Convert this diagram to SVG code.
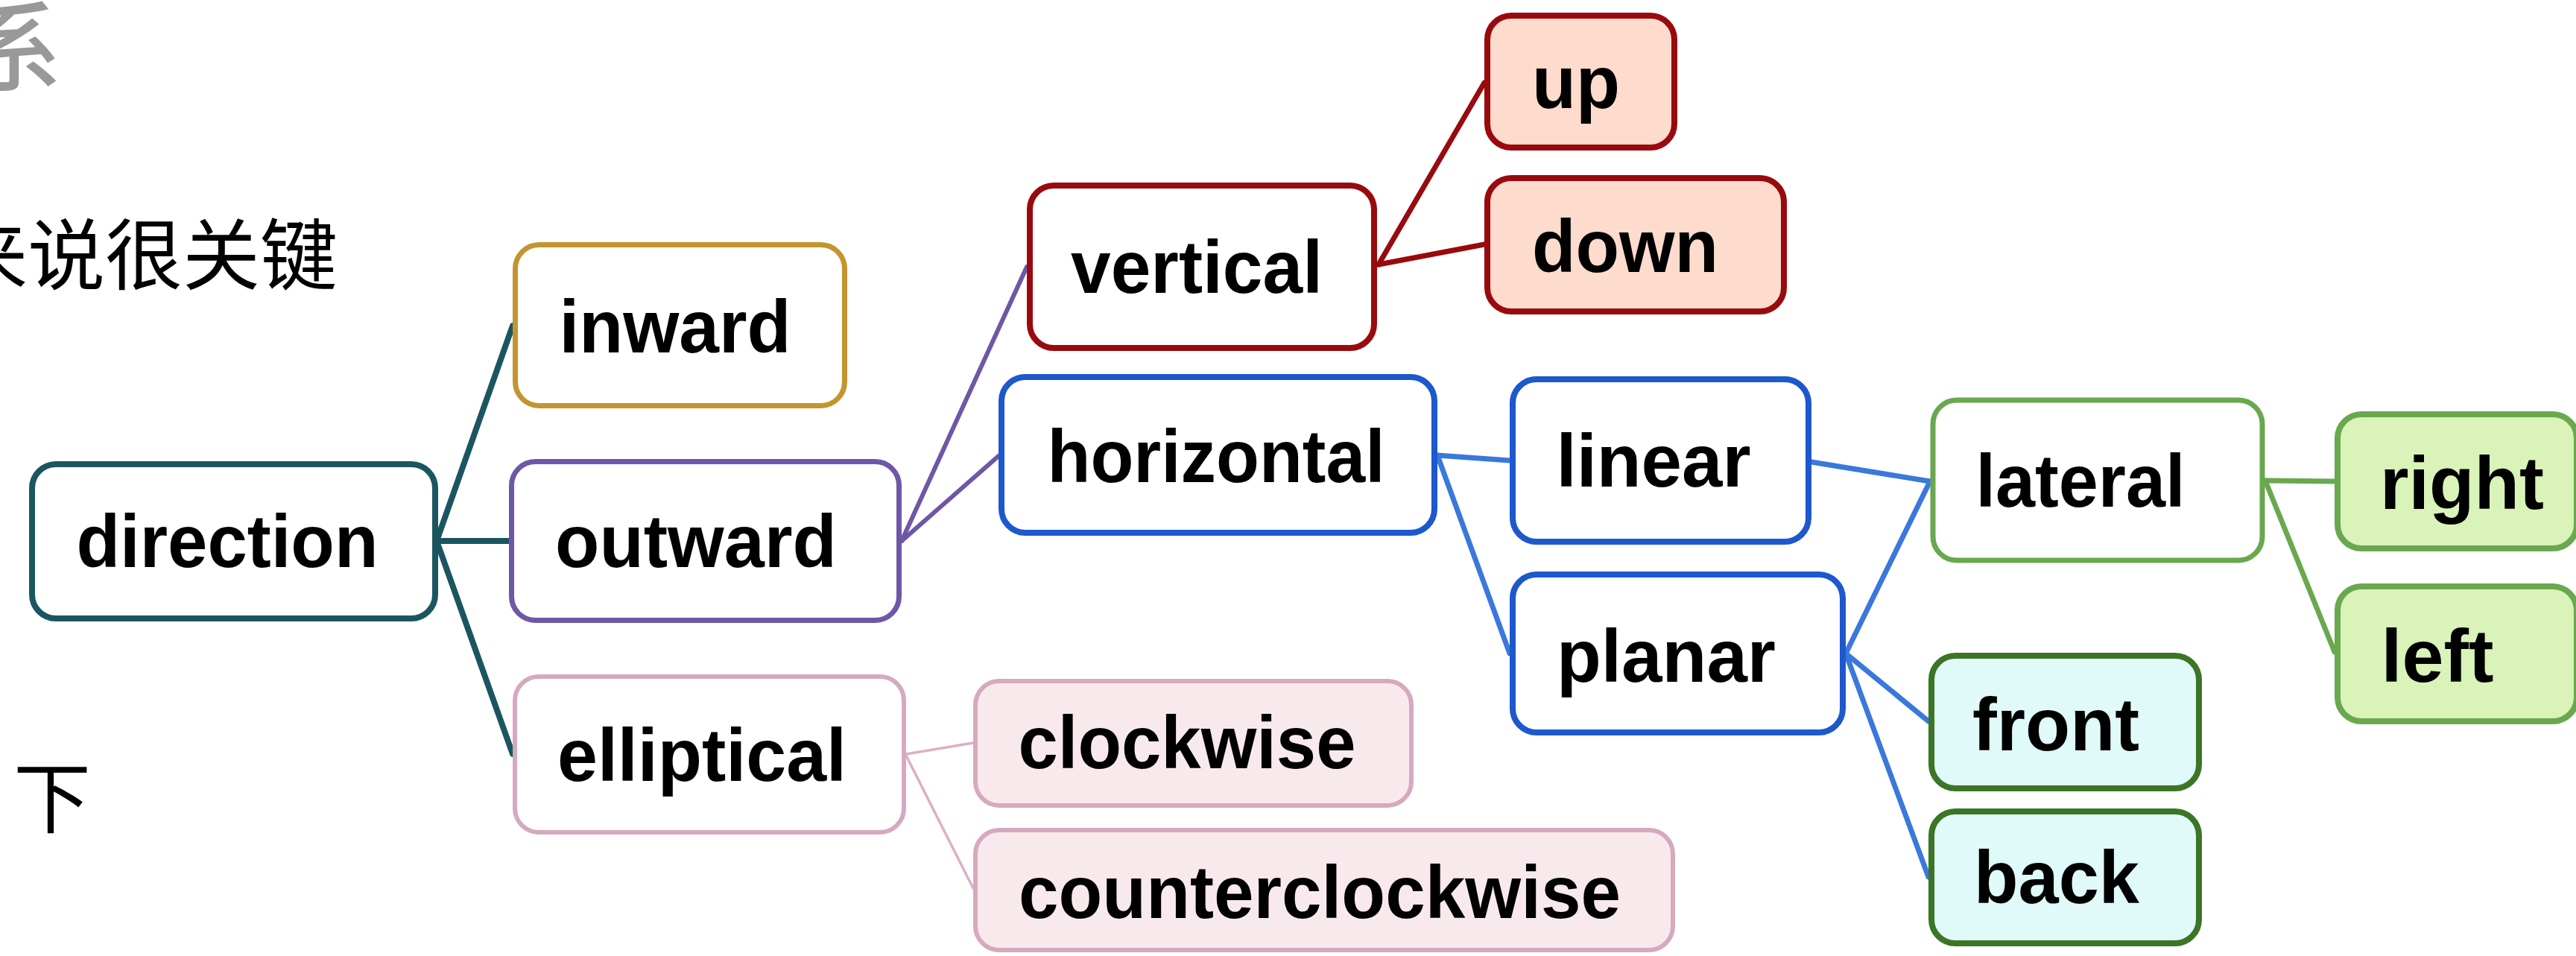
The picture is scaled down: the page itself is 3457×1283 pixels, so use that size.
<svg xmlns="http://www.w3.org/2000/svg" width="3457" height="1283" viewBox="0 0 3457 1283">
  <style>
    .bg { fill: #ffffff; }
    .cjk { font-family: "Noto Sans CJK SC", "Noto Sans", sans-serif; font-size: 104px; fill: #000000; }
    .title { font-size: 130px; fill: #999999; font-weight: 500; }
    .lbl { font-family: "Liberation Sans", Arial, sans-serif; font-weight: bold; font-size: 100px; fill: #000000; text-anchor: middle; }
    .n { fill: #ffffff; stroke-width: 7; }
    .teal { stroke: #1b5660; stroke-width: 8; }
    .gold { stroke: #c39530; }
    .purple { stroke: #6f57a6; }
    .pink { stroke: #d6a9c0; stroke-width: 6; }
    .pinkleaf { stroke: #d6a9c0; stroke-width: 6; fill: #f8eaec; }
    .red { stroke: #990a0f; stroke-width: 8; }
    .redleaf { stroke: #990a0f; stroke-width: 8; fill: #fddbcd; }
    .blue { stroke: #1d58cc; stroke-width: 8; }
    .green { stroke: #6aa84f; }
    .greenleaf { stroke: #6aa84f; stroke-width: 8; fill: #d9f3b9; }
    .dkgreenleaf { stroke: #3b7526; stroke-width: 8; fill: #e0f9f9; }
    .e { fill: none; stroke-linecap: round; }
    .e-teal { stroke: #1b5660; stroke-width: 8; }
    .e-purple { stroke: #6f57a6; stroke-width: 6; }
    .e-red { stroke: #990a0f; stroke-width: 7; }
    .e-blue { stroke: #3a78dc; stroke-width: 7; }
    .e-green { stroke: #6aa84f; stroke-width: 7; }
    .e-pink { stroke: #dcb0c6; stroke-width: 3.5; }
  </style>

  <rect class="bg" x="0" y="0" width="3457" height="1283"/>

  <!-- surrounding slide text -->
  <g id="page-text">
    <text class="cjk title" x="-47" y="111">系</text>
    <text class="cjk" x="-67" y="381">来说很关键</text>
    <text class="cjk" x="18" y="1110">下</text>
  </g>

  <!-- connectors -->
  <g id="connectors" class="e">
    <line class="e-teal" x1="586" y1="726" x2="688" y2="437"/>
    <line class="e-teal" x1="586" y1="726" x2="683" y2="726"/>
    <line class="e-teal" x1="586" y1="726" x2="688" y2="1012"/>

    <line class="e-purple" x1="1210" y1="726" x2="1378" y2="358"/>
    <line class="e-purple" x1="1210" y1="726" x2="1340" y2="612"/>

    <line class="e-red" x1="1850" y1="355" x2="1992" y2="111"/>
    <line class="e-red" x1="1850" y1="355" x2="1992" y2="328"/>

    <line class="e-blue" x1="1929" y1="611" x2="2026" y2="618"/>
    <line class="e-blue" x1="1929" y1="611" x2="2026" y2="877"/>
    <line class="e-blue" x1="2431" y1="620" x2="2590" y2="646"/>
    <line class="e-blue" x1="2477" y1="877" x2="2590" y2="646"/>
    <line class="e-blue" x1="2477" y1="877" x2="2588" y2="968"/>
    <line class="e-blue" x1="2477" y1="877" x2="2588" y2="1177"/>

    <line class="e-green" x1="3040" y1="645" x2="3133" y2="646"/>
    <line class="e-green" x1="3040" y1="645" x2="3133" y2="875"/>

    <line class="e-pink" x1="1216" y1="1012" x2="1306" y2="997"/>
    <line class="e-pink" x1="1216" y1="1014" x2="1306" y2="1192"/>
  </g>

  <!-- nodes -->
  <g id="node-direction">
    <rect class="n teal" x="43" y="623" width="541" height="207" rx="32"/>
    <text class="lbl" x="305" y="761" textLength="405" lengthAdjust="spacingAndGlyphs">direction</text>
  </g>
  <g id="node-inward">
    <rect class="n gold" x="691.5" y="328.5" width="442" height="216" rx="32"/>
    <text class="lbl" x="906" y="473" textLength="311" lengthAdjust="spacingAndGlyphs">inward</text>
  </g>
  <g id="node-outward">
    <rect class="n purple" x="686.5" y="619.5" width="520" height="213" rx="32"/>
    <text class="lbl" x="934" y="761" textLength="378" lengthAdjust="spacingAndGlyphs">outward</text>
  </g>
  <g id="node-elliptical">
    <rect class="n pink" x="691" y="908" width="522" height="209" rx="32"/>
    <text class="lbl" x="942" y="1048" textLength="388" lengthAdjust="spacingAndGlyphs">elliptical</text>
  </g>
  <g id="node-vertical">
    <rect class="n red" x="1382" y="249" width="462" height="218" rx="32"/>
    <text class="lbl" x="1606" y="393" textLength="338" lengthAdjust="spacingAndGlyphs">vertical</text>
  </g>
  <g id="node-horizontal">
    <rect class="n blue" x="1344" y="506" width="581" height="209" rx="32"/>
    <text class="lbl" x="1632" y="647" textLength="453" lengthAdjust="spacingAndGlyphs">horizontal</text>
  </g>
  <g id="node-up">
    <rect class="n redleaf" x="1996" y="21" width="251" height="177" rx="32"/>
    <text class="lbl" x="2115" y="145" textLength="118" lengthAdjust="spacingAndGlyphs">up</text>
  </g>
  <g id="node-down">
    <rect class="n redleaf" x="1996" y="239" width="398" height="179" rx="32"/>
    <text class="lbl" x="2181" y="365" textLength="250" lengthAdjust="spacingAndGlyphs">down</text>
  </g>
  <g id="node-linear">
    <rect class="n blue" x="2030" y="509" width="397" height="218" rx="32"/>
    <text class="lbl" x="2219" y="653" textLength="261" lengthAdjust="spacingAndGlyphs">linear</text>
  </g>
  <g id="node-planar">
    <rect class="n blue" x="2030" y="771" width="443" height="212" rx="32"/>
    <text class="lbl" x="2236" y="915" textLength="294" lengthAdjust="spacingAndGlyphs">planar</text>
  </g>
  <g id="node-lateral">
    <rect class="n green" x="2594" y="537" width="442" height="215" rx="32"/>
    <text class="lbl" x="2792" y="680" textLength="281" lengthAdjust="spacingAndGlyphs">lateral</text>
  </g>
  <g id="node-right">
    <rect class="n greenleaf" x="3137" y="556" width="321" height="180" rx="32"/>
    <text class="lbl" x="3304" y="683" textLength="220" lengthAdjust="spacingAndGlyphs">right</text>
  </g>
  <g id="node-left">
    <rect class="n greenleaf" x="3137" y="787" width="321" height="181" rx="32"/>
    <text class="lbl" x="3271" y="915" textLength="151" lengthAdjust="spacingAndGlyphs">left</text>
  </g>
  <g id="node-front">
    <rect class="n dkgreenleaf" x="2592" y="880" width="359" height="178" rx="32"/>
    <text class="lbl" x="2759" y="1007" textLength="224" lengthAdjust="spacingAndGlyphs">front</text>
  </g>
  <g id="node-back">
    <rect class="n dkgreenleaf" x="2592" y="1089" width="359" height="177" rx="32"/>
    <text class="lbl" x="2760" y="1212" textLength="222" lengthAdjust="spacingAndGlyphs">back</text>
  </g>
  <g id="node-clockwise">
    <rect class="n pinkleaf" x="1309" y="914" width="585" height="167" rx="32"/>
    <text class="lbl" x="1593" y="1031" textLength="453" lengthAdjust="spacingAndGlyphs">clockwise</text>
  </g>
  <g id="node-counterclockwise">
    <rect class="n pinkleaf" x="1309" y="1114" width="936" height="161" rx="32"/>
    <text class="lbl" x="1771" y="1232" textLength="808" lengthAdjust="spacingAndGlyphs">counterclockwise</text>
  </g>
</svg>
